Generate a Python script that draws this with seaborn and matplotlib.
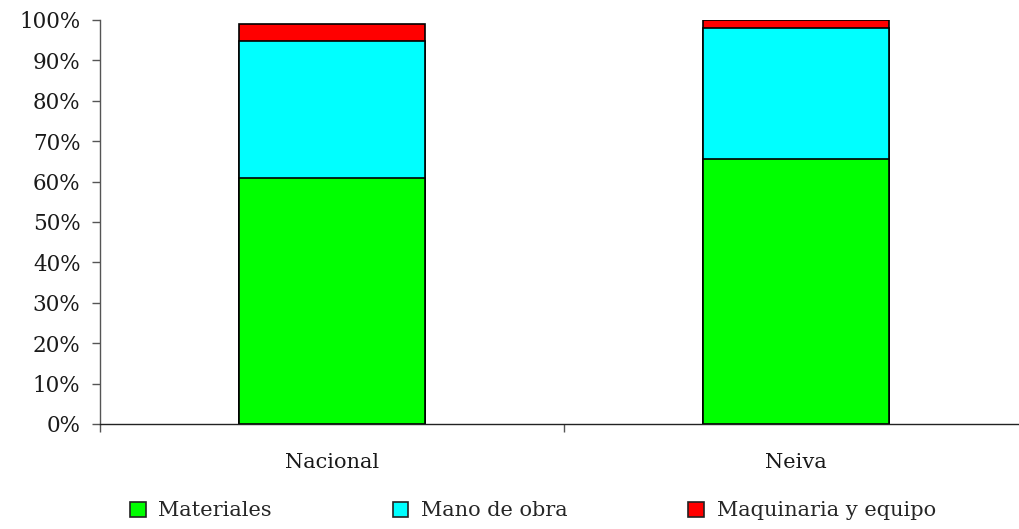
import matplotlib
matplotlib.use("Agg")
import matplotlib.pyplot as plt
from matplotlib.patches import Patch
from matplotlib.ticker import FixedLocator, FuncFormatter
import seaborn as sns
import pandas as pd

categories = ["Nacional", "Neiva"]
series_names = ["Materiales", "Mano de obra", "Maquinaria y equipo"]
materiales = [60.8, 65.6]
mano_de_obra = [34.0, 32.5]
maquinaria = [4.3, 1.8]
colors = ["#00ff00", "#00ffff", "#ff0000"]

sns.set_theme(style="white")
plt.rcParams["font.family"] = ["DejaVu Serif"]

df = pd.DataFrame({"cat": categories,
                   "Materiales": materiales,
                   "Mano de obra": mano_de_obra,
                   "Maquinaria y equipo": maquinaria})
df["c1"] = df["Materiales"] / 100
df["c2"] = (df["Materiales"] + df["Mano de obra"]) / 100
df["c3"] = (df["Materiales"] + df["Mano de obra"] + df["Maquinaria y equipo"]) / 100

fig = plt.figure(figsize=(10.19, 5.29), dpi=100)
ax = fig.add_axes([100/1019, 1 - 424/529, 1 - 100/1019, 404/529])

for col, c in zip(["c3", "c2", "c1"], colors[::-1]):
    sns.barplot(data=df, x="cat", y=col, color=c, edgecolor="black",
                linewidth=1.2, width=0.4, saturation=1, ax=ax)

ax.set_ylim(0, 1)
ax.set_xlim(-0.5, 1.5 - 9/464)
ax.set_xlabel("")
ax.set_ylabel("")

ax.yaxis.set_major_locator(FixedLocator([i/10 for i in range(11)]))
ax.yaxis.set_major_formatter(FuncFormatter(lambda v, p: f"{int(round(v*100))}%"))
ax.tick_params(axis="y", which="major", left=True, length=6, width=1,
               color="#555555", pad=8, labelsize=15.5, labelcolor="#1a1a1a")

ax.xaxis.set_major_locator(FixedLocator([-0.5, 0.5]))
ax.xaxis.set_minor_locator(FixedLocator([0, 1]))
ax.set_xticklabels(["", ""])
ax.set_xticklabels(categories, minor=True)
ax.tick_params(axis="x", which="major", bottom=True, length=6, width=1, color="#555555")
ax.tick_params(axis="x", which="minor", bottom=False, length=0, pad=21,
               labelsize=15, labelcolor="#1a1a1a")

for s in ["top", "right"]:
    ax.spines[s].set_visible(False)
ax.spines["left"].set_color("#555555")
ax.spines["left"].set_linewidth(1)
ax.spines["bottom"].set_color("#222222")
ax.spines["bottom"].set_linewidth(1)

handles = [Patch(facecolor=c, edgecolor="#222222", linewidth=1.2, label=n)
           for c, n in zip(colors, series_names)]
fig.legend(handles=handles, loc="center", bbox_to_anchor=(0.523, 1 - 511/529),
           ncol=3, frameon=False, fontsize=15, handlelength=0.75, handleheight=0.75,
           handletextpad=0.6, columnspacing=5.8)

fig.savefig("out.png", dpi=100)
